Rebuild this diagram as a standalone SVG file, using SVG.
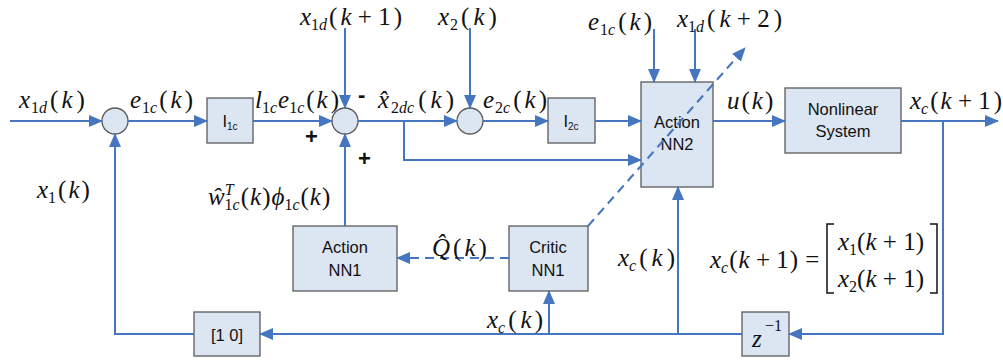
<svg xmlns="http://www.w3.org/2000/svg" width="1003" height="363" viewBox="0 0 1003 363">
<style>
.box{fill:#DCE6F2;stroke:#5A5A5A;stroke-width:1.3}
.sum{fill:#DCE6F2;stroke:#5A5A5A;stroke-width:1.3}
.ln{fill:none;stroke:#4776C0;stroke-width:2}
.dash{stroke-dasharray:9 6}
.lbl{font-family:"Liberation Sans",Arial,sans-serif;font-size:16.5px;fill:#111;text-anchor:middle}
.m{font-family:"Liberation Serif","Times New Roman",serif;font-size:25px;fill:#111}
.i{font-style:italic}
.s{font-size:16px}
.sign{font-family:"Liberation Sans",Arial,sans-serif;font-size:22px;font-weight:bold;fill:#111}
</style>
<defs>
<marker id="ah" markerUnits="userSpaceOnUse" markerWidth="14" markerHeight="12" refX="13" refY="6" orient="auto">
<path d="M0,0 L14,6 L0,12 Z" fill="#4776C0"/>
</marker>
</defs>

<g id="sum1"><circle class="sum" cx="115" cy="121" r="13"/></g>
<g id="sum2"><circle class="sum" cx="345" cy="121" r="13"/></g>
<g id="sum3"><circle class="sum" cx="470" cy="121" r="13"/></g>
<g id="I1c"><rect class="box" x="207" y="98" width="46" height="45"/>
<text class="lbl" x="230" y="127" font-size="15">I<tspan font-size="10" dy="3">1c</tspan></text></g>
<g id="I2c"><rect class="box" x="548" y="98" width="47" height="45"/>
<text class="lbl" x="571" y="127" font-size="15">I<tspan font-size="10" dy="3">2c</tspan></text></g>
<g id="actionNN2"><rect class="box" x="641" y="82" width="72" height="105"/>
<text class="lbl" x="677" y="128">Action</text><text class="lbl" x="677" y="150">NN2</text></g>
<g id="nonlinear"><rect class="box" x="785" y="88" width="116" height="65"/>
<text class="lbl" x="843" y="115">Nonlinear</text><text class="lbl" x="843" y="137">System</text></g>
<g id="actionNN1"><rect class="box" x="293" y="226" width="104" height="65"/>
<text class="lbl" x="345" y="253">Action</text><text class="lbl" x="345" y="276">NN1</text></g>
<g id="criticNN1"><rect class="box" x="509" y="226" width="79" height="65"/>
<text class="lbl" x="548" y="253">Critic</text><text class="lbl" x="548" y="276">NN1</text></g>
<g id="selector"><rect class="box" x="194" y="312" width="66" height="44"/>
<text class="lbl" x="227" y="341">[1 0]</text></g>
<g id="delay"><rect class="box" x="742" y="312" width="47" height="44"/>
<text class="m i" x="752" y="347" font-size="27">z</text><text class="m s" x="765" y="331">−1</text></g>

<g id="connectors">
<path class="ln" d="M10 121 H102" marker-end="url(#ah)"/>
<path class="ln" d="M128 121 H207" marker-end="url(#ah)"/>
<path class="ln" d="M253 121 H332" marker-end="url(#ah)"/>
<path class="ln" d="M358 121 H457" marker-end="url(#ah)"/>
<path class="ln" d="M483 121 H548" marker-end="url(#ah)"/>
<path class="ln" d="M595 121 H641" marker-end="url(#ah)"/>
<path class="ln" d="M404 121 V160 H641" marker-end="url(#ah)"/>
<path class="ln" d="M345 28 V108" marker-end="url(#ah)"/>
<path class="ln" d="M470 28 V108" marker-end="url(#ah)"/>
<path class="ln" d="M654 29 V82" marker-end="url(#ah)"/>
<path class="ln" d="M695 29 V82" marker-end="url(#ah)"/>
<path class="ln" d="M713 121 H785" marker-end="url(#ah)"/>
<path class="ln" d="M901 121 H998" marker-end="url(#ah)"/>
<path class="ln" d="M943 121 V334 H789" marker-end="url(#ah)"/>
<path class="ln" d="M742 334 H260" marker-end="url(#ah)"/>
<path class="ln" d="M194 334 H115 V134" marker-end="url(#ah)"/>
<path class="ln" d="M678 334 V187" marker-end="url(#ah)"/>
<path class="ln" d="M549 334 V291" marker-end="url(#ah)"/>
<path class="ln" d="M345 226 V134" marker-end="url(#ah)"/>
<path class="ln dash" d="M509 258 H397" marker-end="url(#ah)"/>
<path class="ln dash" d="M588 226 L745 48" marker-end="url(#ah)"/>
</g>

<g id="labels">
<text class="m" x="19" y="108"><tspan class="i">x</tspan><tspan class="s" dx="1" dy="5">1</tspan><tspan class="s i">d</tspan><tspan dx="3" dy="-5">(</tspan><tspan class="i" dx="3">k</tspan><tspan dx="4">)</tspan></text>
<text class="m" x="130" y="108"><tspan class="i">e</tspan><tspan class="s" dx="1" dy="5">1</tspan><tspan class="s i">c</tspan><tspan dx="2" dy="-5">(</tspan><tspan class="i" dx="3">k</tspan><tspan dx="3">)</tspan></text>
<text class="m" x="255" y="108"><tspan class="i">l</tspan><tspan class="s" dy="5">1</tspan><tspan class="s i">c</tspan><tspan class="i" dx="1" dy="-5">e</tspan><tspan class="s" dy="5">1</tspan><tspan class="s i">c</tspan><tspan dx="2" dy="-5">(</tspan><tspan class="i" dx="2">k</tspan><tspan dx="3">)</tspan></text>
<text class="m" x="300" y="25"><tspan class="i">x</tspan><tspan class="s" dy="5">1</tspan><tspan class="s i">d</tspan><tspan dx="2" dy="-5">(</tspan><tspan class="i" dx="3">k</tspan> + 1<tspan dx="3">)</tspan></text>
<text class="m" x="438" y="25"><tspan class="i">x</tspan><tspan class="s" dx="1" dy="5">2</tspan><tspan dx="3" dy="-5">(</tspan><tspan class="i" dx="4">k</tspan><tspan dx="4">)</tspan></text>
<text class="m" x="588" y="30"><tspan class="i">e</tspan><tspan class="s" dx="1" dy="5">1</tspan><tspan class="s i">c</tspan><tspan dx="3" dy="-5">(</tspan><tspan class="i" dx="3">k</tspan><tspan dx="3">)</tspan></text>
<text class="m" x="677" y="27"><tspan class="i">x</tspan><tspan class="s" dy="5">1</tspan><tspan class="s i">d</tspan><tspan dx="3" dy="-5">(</tspan><tspan class="i" dx="4">k</tspan> + 2<tspan dx="4">)</tspan></text>
<text class="sign" x="358" y="102">-</text>
<text class="m" x="378" y="108"><tspan class="i">x̂</tspan><tspan class="s" dx="2" dy="5">2</tspan><tspan class="s i">dc</tspan><tspan dx="4" dy="-5">(</tspan><tspan class="i" dx="4">k</tspan><tspan dx="4">)</tspan></text>
<text class="m" x="483" y="108"><tspan class="i">e</tspan><tspan class="s" dx="1" dy="5">2</tspan><tspan class="s i">c</tspan><tspan dx="3" dy="-5">(</tspan><tspan class="i" dx="3">k</tspan><tspan dx="3">)</tspan></text>
<text class="m" x="727" y="109"><tspan class="i">u</tspan><tspan dx="2">(</tspan><tspan class="i" dx="2">k</tspan><tspan dx="2">)</tspan></text>
<text class="m" x="910" y="109"><tspan class="i">x</tspan><tspan class="s i" dy="5">c</tspan><tspan dx="2" dy="-5">(</tspan><tspan class="i" dx="2">k</tspan> + 1<tspan dx="3">)</tspan></text>
<text class="sign" x="305" y="144">+</text>
<text class="sign" x="358" y="166">+</text>
<text class="m" x="37" y="198"><tspan class="i">x</tspan><tspan class="s" dy="5">1</tspan><tspan dx="2" dy="-5">(</tspan><tspan class="i" dx="2">k</tspan><tspan dx="2">)</tspan></text>
<text class="m" x="208" y="205"><tspan class="i">ŵ</tspan><tspan class="s i" dy="-10">T</tspan><tspan class="s" dx="-9" dy="15">1</tspan><tspan class="s i">c</tspan><tspan dx="1" dy="-5">(</tspan><tspan class="i" dx="1">k</tspan><tspan dx="1">)</tspan><tspan class="i" dx="1">ϕ</tspan><tspan class="s" dy="5">1</tspan><tspan class="s i">c</tspan><tspan dx="1" dy="-5">(</tspan><tspan class="i" dx="1">k</tspan><tspan dx="1">)</tspan></text>
<text class="m" x="432" y="256"><tspan class="i">Q̂</tspan><tspan dx="3">(</tspan><tspan class="i" dx="3">k</tspan><tspan dx="3">)</tspan></text>
<text class="m" x="618" y="266"><tspan class="i">x</tspan><tspan class="s i" dy="5">c</tspan><tspan dx="3" dy="-5">(</tspan><tspan class="i" dx="4">k</tspan><tspan dx="4">)</tspan></text>
<text class="m" x="487" y="328"><tspan class="i">x</tspan><tspan class="s i" dy="5">c</tspan><tspan dx="3" dy="-5">(</tspan><tspan class="i" dx="4">k</tspan><tspan dx="3">)</tspan></text>
<text class="m" x="710" y="268"><tspan class="i">x</tspan><tspan class="s i" dy="5">c</tspan><tspan dx="1" dy="-5">(</tspan><tspan class="i" dx="1">k</tspan> + 1<tspan dx="1">)</tspan><tspan dx="1"> =</tspan></text>
<path d="M834 224 H827 V293 H834 M930 224 H937 V293 H930" fill="none" stroke="#111" stroke-width="1.5"/>
<text class="m" x="838" y="250"><tspan class="i">x</tspan><tspan class="s" dy="5">1</tspan><tspan dy="-5">(</tspan><tspan class="i">k</tspan> + 1)</text>
<text class="m" x="838" y="287"><tspan class="i">x</tspan><tspan class="s" dy="5">2</tspan><tspan dy="-5">(</tspan><tspan class="i">k</tspan> + 1)</text>
</g>
</svg>
